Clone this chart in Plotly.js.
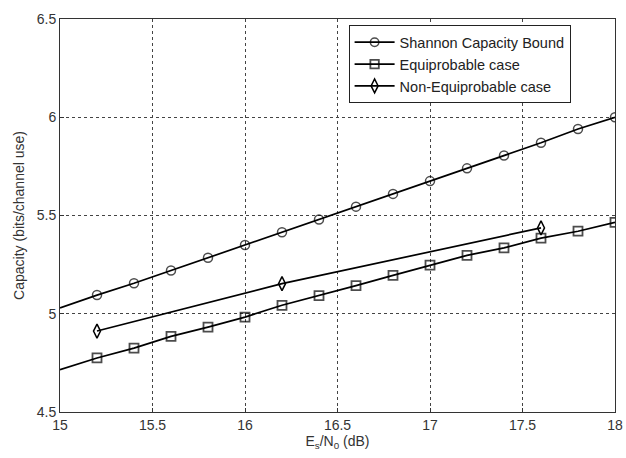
<!DOCTYPE html>
<html>
<head>
<meta charset="utf-8">
<script src="https://cdn.plot.ly/plotly-3.0.1.min.js"></script>
<style>html,body{margin:0;padding:0;background:#fff;}#chart{width:626px;height:458px;}</style>
</head>
<body>
<div id="chart"></div>
<script>
// Es/N0 (dB) grid; first point (15) carries the line only, no marker
const snrDb = [15, 15.2, 15.4, 15.6, 15.8, 16, 16.2, 16.4, 16.6, 16.8, 17, 17.2, 17.4, 17.6, 17.8, 18];
const shannon = [5.03, 5.095, 5.155, 5.22, 5.285, 5.35, 5.415, 5.48, 5.545, 5.61, 5.675, 5.74, 5.805, 5.87, 5.94, 6.0];
const equiprobable = [4.715, 4.775, 4.825, 4.885, 4.932, 4.983, 5.043, 5.092, 5.143, 5.195, 5.247, 5.297, 5.335, 5.385, 5.42, 5.465];
const nonEqSnrDb = [15.2, 16.2, 17.6];
const nonEquiprobable = [4.912, 5.153, 5.437];
const seriesNames = ["Shannon Capacity Bound", "Equiprobable case", "Non-Equiprobable case"];

const markerSizes = (s) => snrDb.map((_, i) => i === 0 ? 0 : s);

const traces = [
  {x: snrDb, y: shannon, name: seriesNames[0], mode: "lines+markers",
   line: {color: "#000", width: 1.7},
   marker: {symbol: "circle-open", size: markerSizes(9), color: "#000", line: {width: 1.5, color: "#000"}}},
  {x: snrDb, y: equiprobable, name: seriesNames[1], mode: "lines+markers",
   line: {color: "#000", width: 1.7},
   marker: {symbol: "square-open", size: markerSizes(9), color: "#000", line: {width: 1.8, color: "#000"}}},
  {x: nonEqSnrDb, y: nonEquiprobable, name: seriesNames[2], mode: "lines+markers",
   line: {color: "#000", width: 1.7},
   marker: {symbol: "diamond-tall-open", size: 10, color: "#000", line: {width: 1.5, color: "#000"}}}
];

const axisCommon = {
  showline: true, mirror: true, linecolor: "#333", linewidth: 1,
  showgrid: true, gridcolor: "#444", gridwidth: 1, griddash: "3px,3px",
  zeroline: false, ticks: "inside", ticklen: 4, tickcolor: "#333",
  tickfont: {family: "Liberation Sans, Arial, sans-serif", size: 14, color: "#333"}
};

const layout = {
  width: 626, height: 458,
  margin: {l: 60, r: 11, t: 19, b: 46},
  paper_bgcolor: "#fff", plot_bgcolor: "#fff",
  showlegend: true,
  font: {family: "Liberation Sans, Arial, sans-serif", color: "#222"},
  xaxis: Object.assign({}, axisCommon, {
    range: [15, 18], tickvals: [15, 15.5, 16, 16.5, 17, 17.5, 18],
    ticktext: ["15", "15.5", "16", "16.5", "17", "17.5", "18"],
    title: {text: "E<sub>s</sub>/N<sub>0</sub> (dB)", font: {size: 14, color: "#333"}, standoff: 4}
  }),
  yaxis: Object.assign({}, axisCommon, {
    range: [4.5, 6.5], tickvals: [4.5, 5, 5.5, 6, 6.5],
    ticktext: ["4.5", "5", "5.5", "6", "6.5"],
    title: {text: "Capacity (bits/channel use)", font: {size: 14, color: "#333"}, standoff: 8}
  }),
  legend: {
    x: 0.52, y: 0.984, xanchor: "left", yanchor: "top",
    bgcolor: "#fff", bordercolor: "#222", borderwidth: 1,
    font: {size: 14.5, color: "#222"}, itemwidth: 40,
    tracegroupgap: 0
  }
};

Plotly.newPlot("chart", traces, layout, {displayModeBar: false, staticPlot: true});
</script>
</body>
</html>
